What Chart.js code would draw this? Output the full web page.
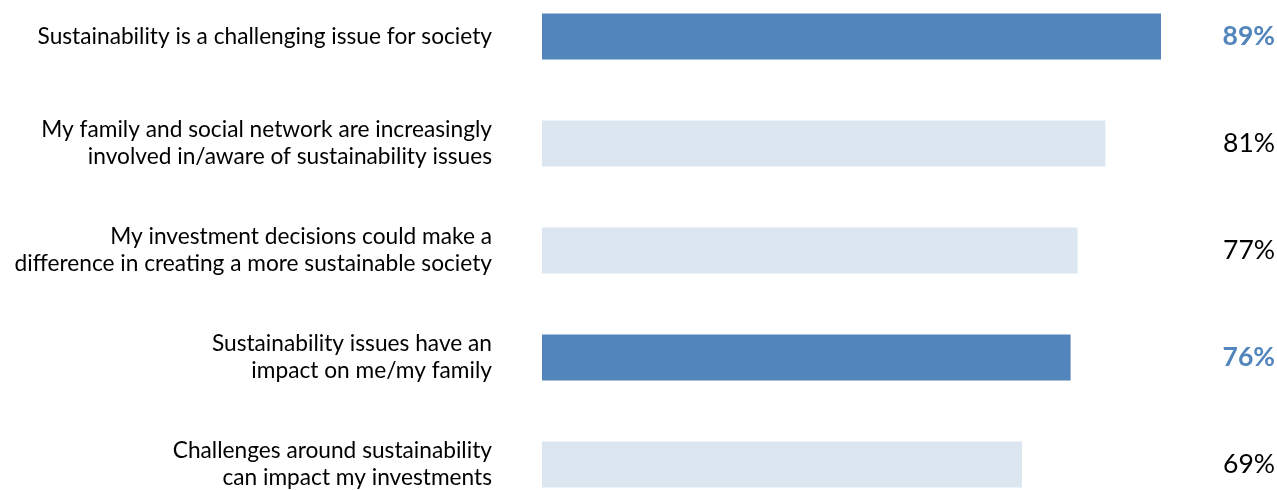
<!DOCTYPE html>
<html>
<head>
<meta charset="utf-8">
<script src="https://cdn.jsdelivr.net/npm/chart.js@4.4.1/dist/chart.umd.min.js"></script>
<style>
  html, body { margin: 0; padding: 0; background: #fff; }
  #frame { position: relative; width: 1277px; height: 490px; overflow: hidden; }
  #chart { position: absolute; left: 0; top: -17.5px; }
</style>
</head>
<body>
<div id="frame"><canvas id="chart" width="1277" height="535"></canvas></div>
<script>
// Survey statements (wrapped the way they appear on the slide)
const categories = [
  ['Sustainability is a challenging issue for society'],
  ['My family and social network are increasingly', 'involved in/aware of sustainability issues'],
  ['My investment decisions could make a', 'difference in creating a more sustainable society'],
  ['Sustainability issues have an', 'impact on me/my family'],
  ['Challenges around sustainability', 'can impact my investments']
];
const values = [89, 81, 77, 76, 69];
const highlighted = [true, false, false, true, false];

const BLUE = '#5285bb';
const PALE = '#dce6f0';
const FONT = 'Lato, "Open Sans", sans-serif';

// Percent labels at the far right, aligned to the canvas edge
const valueLabels = {
  id: 'valueLabels',
  afterDatasetsDraw(chart) {
    const ctx = chart.ctx;
    const meta = chart.getDatasetMeta(0);
    ctx.save();
    ctx.textAlign = 'right';
    ctx.textBaseline = 'middle';
    meta.data.forEach((bar, i) => {
      const hi = highlighted[i];
      ctx.font = (hi ? 'bold ' : '') + '26.5px ' + FONT;
      ctx.fillStyle = hi ? BLUE : '#000';
      ctx.fillText(values[i] + '%', chart.width - 2, bar.y);
    });
    ctx.restore();
  }
};

new Chart(document.getElementById('chart'), {
  type: 'bar',
  data: {
    labels: categories,
    datasets: [{
      data: values,
      backgroundColor: highlighted.map(h => h ? BLUE : PALE),
      borderWidth: 0,
      barPercentage: 0.43,
      categoryPercentage: 1
    }]
  },
  options: {
    indexAxis: 'y',
    responsive: false,
    animation: false,
    layout: { padding: { left: 0, right: 39.5, top: 0, bottom: 0 } },
    plugins: {
      legend: { display: false },
      tooltip: { enabled: false }
    },
    scales: {
      x: { display: false, min: 0, max: 100 },
      y: {
        grid: { display: false },
        border: { display: false },
        afterFit(scale) {
          // fixed label column; categories fill the full height
          scale.width = 542;
          scale.paddingTop = 0;
          scale.paddingBottom = 0;
        },
        ticks: {
          padding: 42,
          color: '#000',
          font: { family: FONT, size: 22.7, lineHeight: 1.19 }
        }
      }
    }
  },
  plugins: [valueLabels]
});
</script>
</body>
</html>
